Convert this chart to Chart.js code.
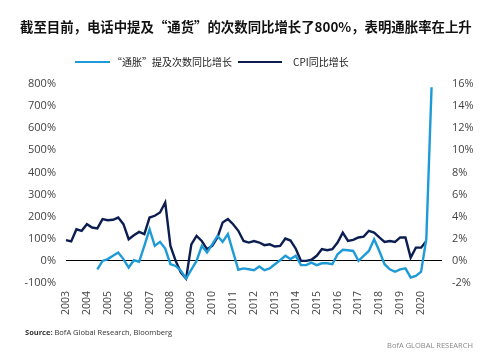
<!DOCTYPE html>
<html><head><meta charset="utf-8">
<script src="https://cdn.jsdelivr.net/npm/chart.js@4.4.0/dist/chart.umd.min.js"></script>
<style>
html,body{margin:0;padding:0;background:#fff;}
#wrap{position:relative;width:500px;height:355px;overflow:hidden;background:#fff;}
#c{position:absolute;left:0;top:0;}
#title{position:absolute;left:20px;top:16px;white-space:nowrap;font:bold 13.4px "Noto Sans CJK SC";color:#111;}
.lg{position:absolute;height:2px;top:61px;}
.lt{position:absolute;top:54px;font:10px "Noto Sans CJK SC";color:#222;white-space:nowrap;}
#src{position:absolute;left:25px;top:327px;font:7.5px "Open Sans";color:#333;white-space:nowrap;}
#brand{position:absolute;right:27px;top:340px;font:7.5px "Open Sans";color:#888;white-space:nowrap;}
</style></head>
<body><div id="wrap">
<canvas id="c" width="500" height="355"></canvas>
<div id="title">截至目前，电话中提及“通货”的次数同比增长了800%，表明通胀率在上升</div>
<div class="lg" style="left:75px;width:35px;background:#1E9BD7"></div>
<div class="lt" style="left:112px">“通胀”提及次数同比增长</div>
<div class="lg" style="left:238px;width:44px;background:#0B1D51"></div>
<div class="lt" style="left:293px">CPI同比增长</div>
<div id="src"><b>Source:</b> BofA Global Research, Bloomberg</div>
<div id="brand">BofA GLOBAL RESEARCH</div>
</div>
<script>
const yearTicks = ['2003','2004','2005','2006','2007','2008','2009','2010','2011','2012','2013','2014','2015','2016','2017','2018','2019','2020'];
const firstYear = 2003, lastCatYear = 2021;
const quarters = [];
for (let y = firstYear; y <= lastCatYear; y++) {
  for (let q = 1; q <= 4; q++) {
    if (y === lastCatYear && q > 1) break;
    quarters.push(y + 'Q' + q);
  }
}
// "通胀" mentions YoY (%), left axis, quarterly from 2003Q1
const mentionsYoY = [null,null,null,null,null,null,
  -38,0,8,23,38,8,-30,3,-4,68,143,68,86,56,
  -15,-23,-45,-80,-40,0,68,38,75,113,86,121,40,-40,
  -34,-38,-42,-25,-42,-34,-15,3,23,8,23,-19,-19,-8,
  -19,-11,-11,-15,30,50,48,45,0,23,45,98,45,-15,
  -38,-49,-38,-34,-75,-68,-49,100,785];
// CPI YoY (%), right axis
const cpiYoY = [1.88,1.76,2.86,2.72,3.32,3.02,2.94,3.78,3.68,3.72,3.92,3.32,
  1.96,2.32,2.62,2.42,3.92,4.08,4.38,5.28,1.36,0,-1.06,-1.6,
  1.5,2.26,1.8,1.06,1.36,2.12,3.48,3.78,3.32,2.72,1.8,1.66,
  1.8,1.66,1.42,1.5,1.3,1.36,2.02,1.84,1.1,0,0,0.1,
  0.46,1.06,0.96,1.06,1.66,2.56,1.8,1.9,2.12,2.2,2.72,2.56,
  2.12,1.72,1.8,1.72,2.12,2.12,0.3,1.2,1.2,1.8];
const leftTicks = {min:-100, max:800, step:100};
const rightTicks = {min:-2, max:16, step:2};

const tickFont = {family:'"Open Sans"', size:11};
new Chart(document.getElementById('c'), {
  type:'line',
  data:{
    labels: quarters,
    datasets:[
      {label:'“通胀”提及次数同比增长', data:mentionsYoY, yAxisID:'y', borderColor:'#1E9BD7', borderWidth:2.4, pointRadius:0, tension:0, spanGaps:false},
      {label:'CPI同比增长', data:cpiYoY, yAxisID:'y1', borderColor:'#0B1D51', borderWidth:2.4, pointRadius:0, tension:0}
    ]
  },
  options:{
    responsive:false, animation:false,
    layout:{padding:{top:84, bottom:32, left:0, right:0}},
    plugins:{legend:{display:false}, tooltip:{enabled:false}},
    scales:{
      x:{
        offset:false,
        grid:{display:false, drawTicks:false},
        border:{display:false},
        ticks:{autoSkip:false, maxRotation:90, minRotation:90, padding:8, color:'#444', font:{family:'"Open Sans"', size:10.5},
          callback:function(v){ const l = this.getLabelForValue(v); const yr = l.slice(0,4); return (l.endsWith('Q1') && yearTicks.includes(yr)) ? yr : ''; }},
        afterFit:(s)=>{ s.height = 40; }
      },
      y:{
        position:'left', min:leftTicks.min, max:leftTicks.max,
        grid:{drawTicks:false, color:(ctx)=> (ctx.tick && ctx.tick.value===0) ? '#000' : 'rgba(0,0,0,0)', lineWidth:1},
        border:{display:false},
        ticks:{stepSize:leftTicks.step, padding:10, color:'#444', font:tickFont, callback:(v)=> v + '%'},
        afterFit:(s)=>{ s.width = 66; }
      },
      y1:{
        position:'right', min:rightTicks.min, max:rightTicks.max,
        grid:{display:false, drawTicks:false},
        border:{display:false},
        ticks:{stepSize:rightTicks.step, padding:10, color:'#444', font:tickFont, callback:(v)=> v + '%'},
        afterFit:(s)=>{ s.width = 58; }
      }
    }
  }
});
</script>
</body></html>
